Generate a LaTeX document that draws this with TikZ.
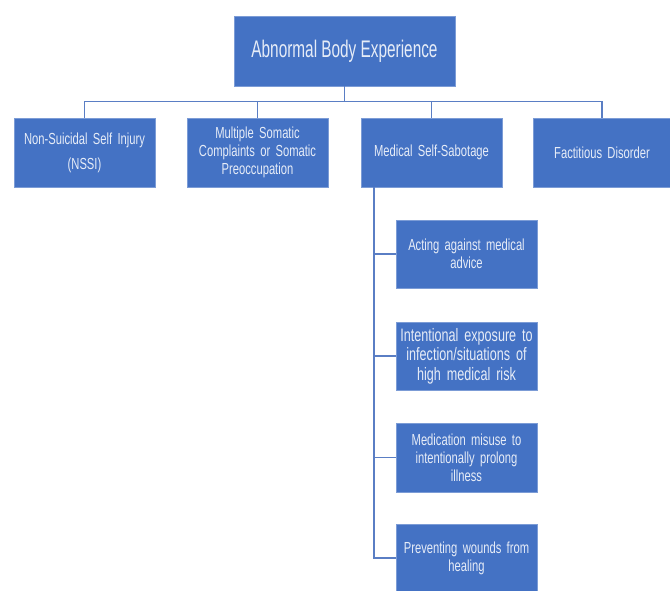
\documentclass[tikz,border=0pt]{standalone}
\usepackage{fontspec}
\setmainfont{Liberation Sans}[FakeStretch=0.7]
\newfontfamily\titlefont{Liberation Sans}[FakeStretch=0.64]
\definecolor{boxblue}{HTML}{4472C4}
\definecolor{lineblue}{HTML}{5A7EC4}
\definecolor{txt}{HTML}{E6ECF7}
\begin{document}
\begin{tikzpicture}[x=1pt,y=-1pt,
  box/.style={fill=boxblue, draw=boxblue!70!white, line width=0.6pt, text=txt, align=center, inner sep=1pt, font=\fontsize{16}{18}\selectfont, minimum height=69pt},
  conn/.style={draw=lineblue, line width=1.4pt}]
\useasboundingbox (0,0) rectangle (670,590);
\node[box, minimum width=221pt, minimum height=70pt, font=\titlefont\fontsize{24}{28}\selectfont] (top) at (344.5,51) {Abnormal Body Experience};
\node[box, minimum width=141pt, text width=139pt] (b1) at (84.5,152.5) {Non-Suicidal Self Injury\\[7pt](NSSI)};
\node[box, minimum width=141pt, text width=139pt] (b2) at (257.5,152.5) {Multiple Somatic\\Complaints or Somatic\\Preoccupation};
\node[box, minimum width=141pt, text width=139pt] (b3) at (431.5,152.5) {Medical Self-Sabotage};
\node[box, minimum width=138pt, text width=136pt] (b4) at (602,152.5) {Factitious Disorder};
\node[box, minimum width=141pt, minimum height=68pt, text width=139pt] (c1) at (466.5,254) {Acting against medical\\advice};
\node[box, minimum width=141pt, minimum height=68pt, text width=139pt, font=\fontsize{18}{19.5}\selectfont] (c2) at (466.5,356) {Intentional exposure to\\infection/situations of\\high medical risk};
\node[box, minimum width=141pt, minimum height=69pt, text width=139pt] (c3) at (466.5,457.5) {Medication misuse to\\intentionally prolong\\illness};
\node[box, minimum width=141pt, minimum height=68pt, text width=139pt] (c4) at (466.5,558) {Preventing wounds from\\healing};
\coordinate (bus) at (344.5,101.5);
\coordinate (trunk) at (374,187);
\draw[conn] (top.south) -- (bus);
\draw[conn] (b1.north) |- (bus) -| (b4.north);
\draw[conn] (b2.north) -- (b2.north |- bus);
\draw[conn] (b3.north) -- (b3.north |- bus);
\draw[conn] (trunk) |- (c4.west);
\draw[conn] (trunk |- c1.west) -- (c1.west);
\draw[conn] (trunk |- c2.west) -- (c2.west);
\draw[conn] (trunk |- c3.west) -- (c3.west);
\end{tikzpicture}
\end{document}
